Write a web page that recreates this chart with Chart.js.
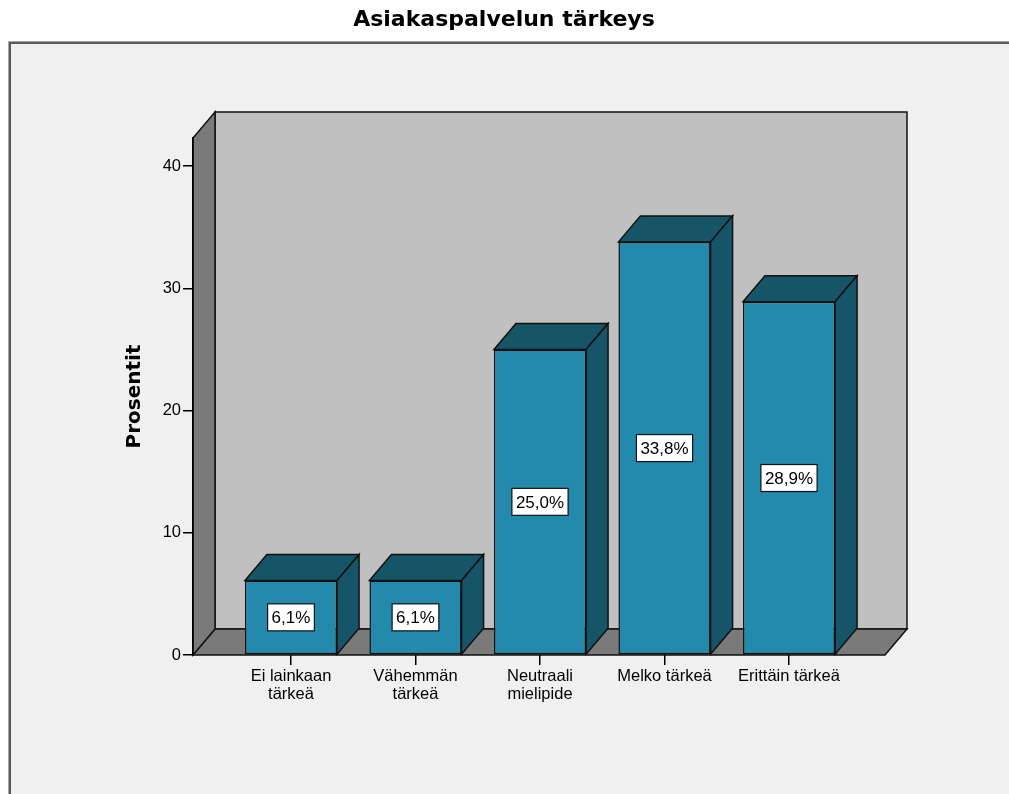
<!DOCTYPE html>
<html><head><meta charset="utf-8">
<script src="https://cdn.jsdelivr.net/npm/chart.js@4.4.1/dist/chart.umd.min.js"></script>
<style>html,body{margin:0;padding:0;background:#fff;}canvas{display:block;}</style>
</head><body>
<canvas id="c" width="1009" height="794"></canvas>
<script>
const categories = [["Ei lainkaan","tärkeä"],["Vähemmän","tärkeä"],["Neutraali","mielipide"],"Melko tärkeä","Erittäin tärkeä"];
const percentages = [6.1, 6.1, 25.0, 33.8, 28.9];
const yTicks = [0, 10, 20, 30, 40];
const chartTitle = "Asiakaspalvelun tärkeys";
const yTitle = "Prosentit";

const DX = 22, DY = -26;
const FRONT = '#2389ad', DARK = '#165468', WALL = '#c0c0c0', SIDE = '#7a7a7a', PANEL = '#f0f0f0', EDGE = '#111';
const FONT = '"Liberation Sans", Arial, sans-serif';

function poly(ctx, pts, fill) {
  ctx.beginPath();
  ctx.moveTo(pts[0][0], pts[0][1]);
  for (let i = 1; i < pts.length; i++) ctx.lineTo(pts[i][0], pts[i][1]);
  ctx.closePath();
  ctx.fillStyle = fill; ctx.fill();
  ctx.strokeStyle = EDGE; ctx.lineWidth = 1.5; ctx.lineJoin = 'miter'; ctx.stroke();
}

const box3d = {
  id: 'box3d',
  beforeDraw(chart) {
    const ctx = chart.ctx, a = chart.chartArea;
    ctx.save();
    ctx.fillStyle = PANEL; ctx.fillRect(9, 42, 1009, 800);
    ctx.strokeStyle = '#a8a8a8'; ctx.lineWidth = 1; ctx.strokeRect(8.5, 41.5, 1010, 800);
    ctx.strokeStyle = '#5a5a5a'; ctx.lineWidth = 2; ctx.strokeRect(10, 43, 1010, 800);
    // back wall
    poly(ctx, [[a.left + DX, a.top + DY], [a.right + DX, a.top + DY], [a.right + DX, a.bottom + DY], [a.left + DX, a.bottom + DY]], WALL);
    // floor
    poly(ctx, [[a.left, a.bottom], [a.right, a.bottom], [a.right + DX, a.bottom + DY], [a.left + DX, a.bottom + DY]], SIDE);
    // left wall
    poly(ctx, [[a.left, a.bottom], [a.left, a.top], [a.left + DX, a.top + DY], [a.left + DX, a.bottom + DY]], SIDE);
    ctx.restore();
  },
  afterDatasetsDraw(chart) {
    const ctx = chart.ctx;
    const meta = chart.getDatasetMeta(0);
    ctx.save();
    meta.data.forEach((el, i) => {
      const p = el.getProps(['x', 'y', 'base', 'width'], true);
      const l = p.x - p.width / 2, r = p.x + p.width / 2, t = p.y, b = p.base;
      poly(ctx, [[l, t], [r, t], [r + DX, t + DY], [l + DX, t + DY]], DARK);
      poly(ctx, [[r, t], [r + DX, t + DY], [r + DX, b + DY], [r, b]], DARK);
      // value label
      const txt = percentages[i].toFixed(1).replace('.', ',') + '%';
      ctx.font = '17px ' + FONT;
      const tw = ctx.measureText(txt).width;
      const bw = tw + 8, bh = 27, cy = (t + b) / 2;
      ctx.fillStyle = '#fff';
      ctx.fillRect(p.x - bw / 2, cy - bh / 2, bw, bh);
      ctx.strokeStyle = EDGE; ctx.lineWidth = 1.2;
      ctx.strokeRect(p.x - bw / 2, cy - bh / 2, bw, bh);
      ctx.fillStyle = '#000'; ctx.textAlign = 'center'; ctx.textBaseline = 'middle';
      ctx.fillText(txt, p.x, cy + 1);
    });
    ctx.restore();
  }
};

new Chart(document.getElementById('c'), {
  type: 'bar',
  data: {
    datasets: [{
      data: percentages.map((v, i) => ({ x: i, y: v })),
      backgroundColor: FRONT,
      borderColor: EDGE,
      borderWidth: 1.5,
      borderSkipped: false,
      categoryPercentage: 1,
      barPercentage: 0.74
    }]
  },
  plugins: [box3d],
  options: {
    responsive: false,
    animation: false,
    devicePixelRatio: 1,
    layout: { padding: { left: 123, right: 124, top: 0, bottom: 79 } },
    plugins: {
      legend: { display: false },
      tooltip: { enabled: false },
      title: {
        display: true, text: chartTitle, color: '#000',
        font: { family: '"DejaVu Sans", sans-serif', size: 22, weight: 'bold', lineHeight: 1.2 },
        padding: { top: 7, bottom: 104.6 }
      }
    },
    scales: {
      x: {
        type: 'linear', min: -0.787, max: 4.771, offset: false,
        afterBuildTicks: s => { s.ticks = categories.map((_, i) => ({ value: i })); },
        afterFit: s => { s.height = 60; },
        ticks: {
          autoSkip: false, maxRotation: 0, minRotation: 0, padding: 3, color: '#000',
          font: { family: FONT, size: 16.5, lineHeight: 1.05 },
          callback: v => categories[v]
        },
        grid: { offset: false, drawOnChartArea: false, drawTicks: true, tickLength: 10, color: '#000', lineWidth: 1.5 },
        border: { display: false }
      },
      y: {
        min: 0, max: 42.3,
        afterBuildTicks: s => { s.ticks = yTicks.map(v => ({ value: v })); },
        afterFit: s => { s.width = 70; },
        ticks: { padding: 2, color: '#000', font: { family: FONT, size: 16.5 } },
        grid: { drawOnChartArea: false, drawTicks: true, tickLength: 10, color: '#000', lineWidth: 1.5 },
        border: { display: true, color: '#000', width: 1.5 },
        title: {
          display: true, text: yTitle, color: '#000',
          font: { family: '"DejaVu Sans", sans-serif', size: 20, weight: 'bold', lineHeight: 1.2 },
          padding: { top: 0, bottom: 0 }
        }
      }
    }
  }
});
</script>
</body></html>
